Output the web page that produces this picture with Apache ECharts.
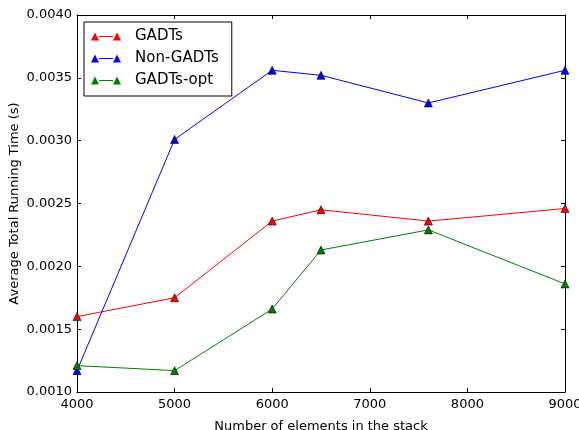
<!DOCTYPE html>
<html>
<head>
<meta charset="utf-8">
<script src="https://cdn.jsdelivr.net/npm/echarts@6/dist/echarts.min.js"></script>
<style>html,body{margin:0;padding:0;background:#fff;}#c{width:579px;height:430px;}</style>
</head>
<body>
<div id="c"></div>
<script>
const xValues = [4000, 5000, 6000, 6500, 7600, 9000];
const gadts = [0.00160, 0.00175, 0.00236, 0.00245, 0.00236, 0.00246];
const nonGadts = [0.00117, 0.00301, 0.00356, 0.00352, 0.00330, 0.00356];
const gadtsOpt = [0.00121, 0.00117, 0.00166, 0.00213, 0.00229, 0.00186];
const seriesNames = ['GADTs', 'Non-GADTs', 'GADTs-opt'];
const seriesColors = ['#ff0000', '#0000ff', '#008000'];

const font = 'DejaVu Sans';
const chart = echarts.init(document.getElementById('c'));
const pair = arr => xValues.map((x, i) => [x, arr[i]]);
const icon = 'path://M0,8 L4,0 L8,8 Z M8,3.5 L22,3.5 L22,4.5 L8,4.5 Z M22,8 L26,0 L30,8 Z';

function mk(name, data, color) {
  return {
    name: name, type: 'line', data: pair(data),
    symbol: 'triangle', symbolSize: [8, 8],
    lineStyle: {color: color, width: 1},
    itemStyle: {color: color, borderColor: '#000', borderWidth: 0.6},
    emphasis: {disabled: true}, animation: false
  };
}
const common = {
  axisLine: {show: true, onZero: false, lineStyle: {color: '#000', width: 1}},
  axisTick: {show: true, inside: true, length: 4, lineStyle: {color: '#000'}},
  splitLine: {show: false}
};
chart.setOption({
  animation: false,
  grid: {left: 77, right: 14, top: 15, bottom: 38, containLabel: false, outerBoundsMode: 'none'},
  legend: {
    orient: 'vertical', left: 84, top: 22,
    data: seriesNames, icon: icon, itemWidth: 30, itemHeight: 8, itemGap: 7,
    padding: [7, 13, 8, 7],
    borderColor: '#000', borderWidth: 1, backgroundColor: '#fff',
    textStyle: {fontFamily: font, fontSize: 15, color: '#000', padding: [0, 0, 0, 9]},
    itemStyle: {borderWidth: 0},
    selectedMode: false
  },
  xAxis: [
    Object.assign({
      type: 'value', min: 4000, max: 9000, interval: 1000, position: 'bottom',
      name: 'Number of elements in the stack', nameLocation: 'middle', nameGap: 28,
      nameMoveOverlap: false,
      nameTextStyle: {fontFamily: font, fontSize: 13, color: '#000'},
      axisLabel: {fontFamily: font, fontSize: 13, color: '#000', margin: 6,
        formatter: v => String(v)}
    }, common),
    Object.assign({
      type: 'value', min: 4000, max: 9000, interval: 1000, position: 'top',
      axisLabel: {show: false}
    }, common)
  ],
  yAxis: [
    Object.assign({
      type: 'value', min: 0.001, max: 0.004, interval: 0.0005, position: 'left',
      name: 'Average Total Running Time (s)', nameLocation: 'middle', nameGap: 56,
      nameMoveOverlap: false,
      nameTextStyle: {fontFamily: font, fontSize: 13, color: '#000'},
      axisLabel: {fontFamily: font, fontSize: 13, color: '#000', margin: 5,
        formatter: v => v.toFixed(4)}
    }, common),
    Object.assign({
      type: 'value', min: 0.001, max: 0.004, interval: 0.0005, position: 'right',
      axisLabel: {show: false}
    }, common)
  ],
  series: [
    mk(seriesNames[0], gadts, seriesColors[0]),
    mk(seriesNames[1], nonGadts, seriesColors[1]),
    mk(seriesNames[2], gadtsOpt, seriesColors[2])
  ]
});
</script>
</body>
</html>
